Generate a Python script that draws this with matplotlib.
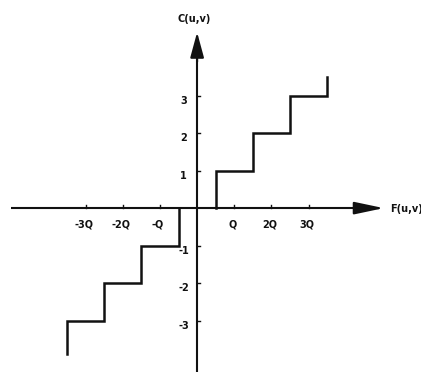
import numpy as np
import matplotlib.pyplot as plt

# quantizer: C(u,v) as a function of F(u,v), step size Q
edges_pos = [0.5, 1.5, 2.5, 3.5]
levels_pos = [1, 2, 3]
end_pos = 3.5
edges_neg = [-0.5, -1.5, -2.5, -3.5]
levels_neg = [-1, -2, -3]
end_neg = -3.9

x_ticks = [-3, -2, -1, 1, 2, 3]
x_tick_labels = ['-3Q', '-2Q', '-Q', 'Q', '2Q', '3Q']
y_ticks = [3, 2, 1, -1, -2, -3]
y_tick_labels = ['3', '2', '1', '-1', '-2', '-3']


def staircase(edges, levels, end):
    xs, ys = [], []
    prev = 0
    for i, e in enumerate(edges):
        nxt = levels[i] if i < len(levels) else end
        xs += [e, e]
        ys += [prev, nxt]
        prev = nxt
    return xs, ys


fig = plt.figure(figsize=(4.21, 3.75), dpi=100)
ax = fig.add_axes([0, 0, 1, 1])
ax.set_xlim(-5.30, 6.02)
ax.set_ylim(-4.45, 5.55)
ax.axis('off')

ink = '#111111'
bold = dict(fontsize=7, fontweight='bold', color=ink, family='DejaVu Sans')

# axes with arrow heads
ax.plot([-5.0, 4.3], [0, 0], color=ink, lw=1.5, solid_capstyle='butt')
ax.annotate('', xy=(5.02, 0), xytext=(4.2, 0),
            arrowprops=dict(arrowstyle='-|>,head_length=1.8,head_width=0.38',
                            mutation_scale=10, color=ink, lw=1.5,
                            shrinkA=0, shrinkB=0))
ax.plot([0, 0], [-4.38, 4.0], color=ink, lw=1.5, solid_capstyle='butt')
ax.annotate('', xy=(0, 4.69), xytext=(0, 3.9),
            arrowprops=dict(arrowstyle='-|>,head_length=1.55,head_width=0.42',
                            mutation_scale=10, color=ink, lw=1.5,
                            shrinkA=0, shrinkB=0))

# tick marks and labels
for t, lab in zip(x_ticks, x_tick_labels):
    ax.plot([t, t], [0, 0.08], color=ink, lw=1)
    ax.text(t - 0.05, -0.43, lab, ha='center', va='center', **bold)
for t, lab in zip(y_ticks, y_tick_labels):
    ax.plot([0, 0.08], [t, t], color=ink, lw=1)
    dx = -0.2 if t < 0 else -0.28
    ax.text(dx, t - 0.14, lab, ha='right', va='center', **bold)

ax.text(-0.08, 5.03, 'C(u,v)', ha='center', va='center', **bold)
ax.text(5.18, -0.02, 'F(u,v)', ha='left', va='center', **bold)

# quantizer steps
for edges, levels, end in [(edges_pos, levels_pos, end_pos),
                           (edges_neg, levels_neg, end_neg)]:
    xs, ys = staircase(edges, levels, end)
    ax.plot(xs, ys, color=ink, lw=1.8, solid_joinstyle='miter')

fig.savefig('out.png', dpi=100, facecolor='white')
